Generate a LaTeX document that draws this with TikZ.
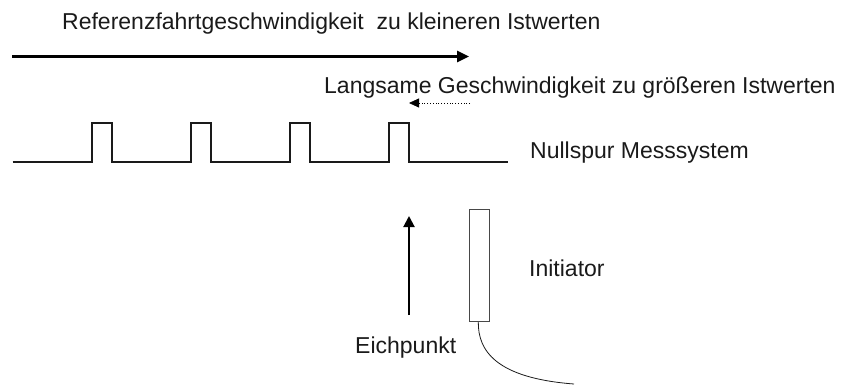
\documentclass[tikz,border=0pt]{standalone}
\usepackage{fontspec}
\setmainfont{Liberation Sans}
\usetikzlibrary{arrows.meta, positioning}
\definecolor{sigblack}{HTML}{1A1A1A}

\begin{document}
\begin{tikzpicture}[x=1pt, y=-1pt,
  lbl/.style={font=\fontsize{23}{27}\selectfont, text=sigblack, anchor=base west, inner sep=0pt},
  mainarrow/.style={line width=2.5pt, -{Triangle[length=12pt, width=11pt]}},
  slowarrow/.style={line width=0.8pt, dotted, -{Triangle[length=10pt, width=9pt]}},
  signal/.style={line width=2pt, line join=miter, sigblack}]
\useasboundingbox (0,0) rectangle (859,388);
% texts
\node[lbl] (refspeed) at (62,29.5) {Referenzfahrtgeschwindigkeit\ \ zu kleineren Istwerten};
\node[lbl] (slowspeed) at (324,93) {Langsame Geschwindigkeit zu größeren Istwerten};
\node[lbl] (zerotrack) at (530,158) {Nullspur Messsystem};
\node[lbl] (initlabel) at (529,276) {Initiator};
\node[lbl] (calpoint) at (355,353) {Eichpunkt};
% direction arrows
\coordinate (refA) at (12,56.5);
\coordinate (refB) at (469,56.5);
\draw[mainarrow] (refA) -- (refB);
\coordinate (slowA) at (470,103);
\coordinate (slowB) at (409,103);
\draw[slowarrow] (slowA) -- (slowB);
% zero track signal
\draw[signal] (12.7,162) -- (91.7,162) -- (91.7,122.7) -- (111.7,122.7) -- (111.7,162)
  -- (190.7,162) -- (190.7,122.7) -- (210.7,122.7) -- (210.7,162)
  -- (290,162) -- (290,122.7) -- (310,122.7) -- (310,162)
  -- (389,162) -- (389,122.7) -- (409,122.7) -- (409,162);
\draw[signal, line width=2.8pt] (408,162) -- (508,162);
% calibration point arrow
\coordinate (calA) at (409,315);
\coordinate (calB) at (409,216);
\draw[line width=2pt, -{Triangle[length=11pt, width=11pt]}] (calA) -- (calB);
% initiator
\node[draw=sigblack!80, line width=0.8pt, minimum width=20pt, minimum height=112.4pt, inner sep=0pt]
  (initiator) at (479.3,265.5) {};
\coordinate (cableend) at (574,384);
\draw[line width=0.8pt, sigblack] ([xshift=-1pt]initiator.south) .. controls (478,350) and (495,378) .. (cableend);
\end{tikzpicture}
\end{document}
